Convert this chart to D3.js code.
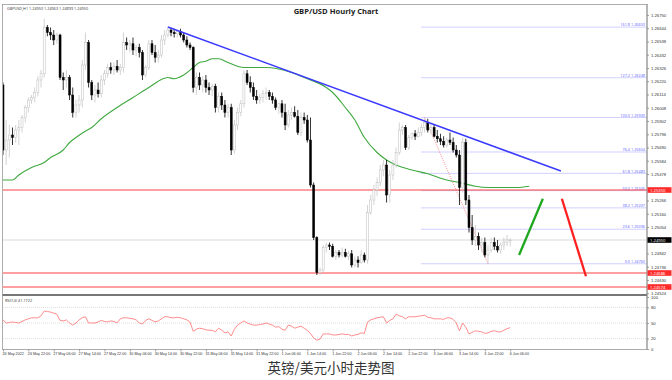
<!DOCTYPE html>
<html>
<head>
<meta charset="utf-8">
<script src="https://cdn.jsdelivr.net/npm/d3@7"></script>
<style>
  body { margin: 0; background: #fff; }
  svg { display: block; font-family: "Open Sans", "DejaVu Sans", sans-serif; }
</style>
</head>
<body>
<svg id="chart" width="672" height="380"></svg>
<script>
// GBPUSD H1 candles, bar 0 = 26 May 14:00 ... bar 160 = 6 Jun 06:00
const opens = [
  1.2619,1.2567,1.2575,1.2579,1.2577,1.2583,1.2585,1.2593,1.2601,1.2607,
  1.2609,1.2613,1.2623,1.2628,1.2665,1.2661,1.2659,1.2655,1.2659,1.2625,
  1.2623,1.2625,1.2611,1.2597,1.2603,1.2607,1.2635,1.2653,1.2621,1.2611,
  1.2615,1.2612,1.2623,1.2628,1.2633,1.2631,1.2634,1.2631,1.2633,1.2653,
  1.2651,1.2652,1.2647,1.2649,1.2645,1.2627,1.2633,1.2652,1.2645,1.2641,
  1.2643,1.2655,1.2659,1.2663,1.2661,1.2660,1.2662,1.2659,1.2655,1.2651,
  1.2649,1.2617,1.2625,1.2619,1.2623,1.2617,1.2615,1.2618,1.2601,1.2610,
  1.2603,1.2597,1.2601,1.2567,1.2587,1.2597,1.2604,1.2628,1.2621,1.2617,
  1.2610,1.2607,1.2609,1.2612,1.2613,1.2610,1.2607,1.2601,1.2604,1.2597,
  1.2587,1.2595,1.2597,1.2594,1.2581,1.2593,1.2591,1.2575,1.2539,1.2497,
  1.2469,1.2471,1.2489,1.2491,1.2490,1.2482,1.2485,1.2483,1.2485,1.2482,
  1.2484,1.2475,1.2479,1.2477,1.2483,1.2479,1.2517,1.2527,1.2535,1.2541,
  1.2551,1.2555,1.2531,1.2547,1.2555,1.2565,1.2583,1.2585,1.2569,1.2577,
  1.2580,1.2578,1.2581,1.2585,1.2589,1.2583,1.2585,1.2578,1.2576,1.2574,
  1.2571,1.2575,1.2573,1.2567,1.2563,1.2537,1.2573,1.2527,1.2505,1.2495,
  1.2498,1.2491,1.2493,1.2483,1.2487,1.2493,1.2490,1.2487,1.2491,1.2493,
  1.24950
];
const highs = [
  1.2621,1.2591,1.2587,1.2585,1.2587,1.2591,1.2595,1.2603,1.2609,1.2611,
  1.2617,1.2626,1.2631,1.2672,1.2667,1.2665,1.2663,1.2661,1.2660,1.2629,
  1.2631,1.2627,1.2617,1.2607,1.2611,1.2639,1.2661,1.2655,1.2623,1.2619,
  1.2621,1.2627,1.2631,1.2636,1.2637,1.2637,1.2639,1.2636,1.2661,1.2657,
  1.2655,1.2657,1.2651,1.2652,1.2647,1.2635,1.2655,1.2655,1.2651,1.2647,
  1.2659,1.2663,1.26654,1.2665,1.2664,1.2663,1.2664,1.2661,1.2658,1.2653,
  1.2650,1.2629,1.2629,1.2626,1.2627,1.2621,1.2620,1.2620,1.2613,1.2613,
  1.2607,1.2604,1.2604,1.2591,1.2601,1.2607,1.2631,1.2631,1.2626,1.2621,
  1.2615,1.2612,1.2615,1.2617,1.2615,1.2613,1.2609,1.2605,1.2607,1.2604,
  1.2599,1.2601,1.2602,1.2599,1.2597,1.2597,1.2595,1.2593,1.2541,1.2498,
  1.2473,1.2491,1.2493,1.2493,1.2492,1.2487,1.2487,1.2489,1.2488,1.2486,
  1.2487,1.2482,1.2482,1.2487,1.2485,1.2523,1.2531,1.2539,1.2545,1.2555,
  1.2559,1.2559,1.2551,1.2559,1.2569,1.2589,1.2587,1.2587,1.2579,1.2581,
  1.2583,1.2585,1.2588,1.2593,1.2592,1.2588,1.2587,1.2583,1.2580,1.2578,
  1.2577,1.2581,1.2577,1.2571,1.2567,1.2577,1.2576,1.2531,1.2515,1.2507,
  1.2501,1.2497,1.2497,1.2491,1.2497,1.2497,1.2495,1.2493,1.2497,1.2499,
  1.24963
];
const lows = [
  1.2563,1.2555,1.2561,1.2571,1.2573,1.2571,1.2581,1.2589,1.2597,1.2604,
  1.2605,1.2610,1.2617,1.2625,1.2658,1.2655,1.2651,1.2652,1.2623,1.2615,
  1.2617,1.2607,1.2593,1.2593,1.2597,1.2601,1.2631,1.2617,1.2607,1.2605,
  1.2609,1.2609,1.2619,1.2625,1.2628,1.2627,1.2629,1.2627,1.2629,1.2647,
  1.2645,1.2643,1.2642,1.2641,1.2623,1.2625,1.2631,1.2643,1.2637,1.2637,
  1.2641,1.2651,1.2657,1.2658,1.2657,1.2657,1.2657,1.2653,1.2649,1.2647,
  1.2613,1.2611,1.2615,1.2613,1.2613,1.2611,1.2610,1.2597,1.2597,1.2599,
  1.2593,1.2593,1.2563,1.2564,1.2583,1.2594,1.2601,1.2619,1.2613,1.2607,
  1.2604,1.2604,1.2605,1.2607,1.2607,1.2604,1.2599,1.2596,1.2593,1.2583,
  1.2585,1.2591,1.2593,1.2579,1.2578,1.2588,1.2573,1.2537,1.2495,1.2467,
  1.2467,1.2469,1.2485,1.2487,1.2481,1.2479,1.2481,1.2481,1.2481,1.2479,
  1.2473,1.2473,1.2473,1.2476,1.2477,1.2476,1.2515,1.2523,1.2530,1.2538,
  1.2546,1.2525,1.2525,1.2543,1.2553,1.2563,1.2579,1.2567,1.2567,1.2575,
  1.2575,1.2577,1.2578,1.2581,1.2581,1.2580,1.2577,1.2573,1.2571,1.2569,
  1.2569,1.2571,1.2565,1.2561,1.2523,1.2533,1.2523,1.2501,1.2491,1.2490,
  1.2487,1.2485,1.2481,1.2476,1.2485,1.2487,1.2485,1.2484,1.2487,1.2490,
  1.24899
];
const closes = [
  1.2567,1.2575,1.2579,1.2577,1.2583,1.2585,1.2593,1.2601,1.2607,1.2609,
  1.2613,1.2623,1.2628,1.2665,1.2661,1.2659,1.2655,1.2659,1.2625,1.2623,
  1.2625,1.2611,1.2597,1.2603,1.2607,1.2635,1.2653,1.2621,1.2611,1.2615,
  1.2612,1.2623,1.2628,1.2633,1.2631,1.2634,1.2631,1.2633,1.2653,1.2651,
  1.2652,1.2647,1.2649,1.2645,1.2627,1.2633,1.2652,1.2645,1.2641,1.2643,
  1.2655,1.2659,1.2663,1.2661,1.2660,1.2662,1.2659,1.2655,1.2651,1.2649,
  1.2617,1.2625,1.2619,1.2623,1.2617,1.2615,1.2618,1.2601,1.2610,1.2603,
  1.2597,1.2601,1.2567,1.2587,1.2597,1.2604,1.2628,1.2621,1.2617,1.2610,
  1.2607,1.2609,1.2612,1.2613,1.2610,1.2607,1.2601,1.2604,1.2597,1.2587,
  1.2595,1.2597,1.2594,1.2581,1.2593,1.2591,1.2575,1.2539,1.2497,1.2469,
  1.2471,1.2489,1.2491,1.2490,1.2482,1.2485,1.2483,1.2485,1.2482,1.2484,
  1.2475,1.2479,1.2477,1.2483,1.2479,1.2517,1.2527,1.2535,1.2541,1.2551,
  1.2555,1.2531,1.2547,1.2555,1.2565,1.2583,1.2585,1.2569,1.2577,1.2580,
  1.2578,1.2581,1.2585,1.2589,1.2583,1.2585,1.2578,1.2576,1.2574,1.2571,
  1.2575,1.2573,1.2567,1.2563,1.2537,1.2573,1.2527,1.2505,1.2495,1.2498,
  1.2491,1.2493,1.2483,1.2487,1.2493,1.2490,1.2487,1.2491,1.2493,1.2495,
  1.24950
];

// moving average (shifted forward), [bar, price]
const maPoints = [
  [0,1.2543],[3,1.2543],[5,1.2547],[9,1.2553],[13,1.2557],[15,1.2561],[19,1.2567],
  [21,1.2573],[23,1.2577],[26,1.2582],[28,1.2585],[31,1.2592],[36,1.2601],[41,1.2609],
  [46,1.2617],[52,1.2625],[54,1.2624],[57,1.2627],[60,1.2633],[62,1.2637],[64,1.2638],
  [66,1.2640],[68,1.2640],[71,1.2637],[76,1.2633],[80,1.2633],[83,1.2633],[91,1.2629],
  [95,1.2625],[102,1.2617],[104,1.2613],[108,1.2601],[111,1.2591],[114,1.2577],
  [118,1.2565],[121,1.2559],[124,1.2555],[129,1.2551],[134,1.2548],[140,1.2543],
  [144,1.2541],[149,1.2538],[153,1.2537],[155,1.2537],[162,1.2537],[166,1.2538]
];

const rsiValues = [
  56,50,51,52,51,50,53,56,58,60,
  60,60,64,73,72,71,69,67,55,54,
  56,50,46,50,56,60,62,50,50,50,
  52,55,53,52,54,53,50,58,60,60,
  59,58,56,50,48,55,58,55,52,54,
  58,62,62,60,60,61,60,58,56,52,
  34,38,40,39,37,36,36,33,40,36,
  31,33,25,38,46,50,54,50,48,46,
  46,47,48,50,48,46,42,43,38,36,
  46,44,40,42,44,40,36,30,21,17,
  19,29,29,29,27,27,28,29,28,28,
  25,27,28,31,30,52,56,58,60,61,
  62,50,55,58,67,64,62,58,62,62,
  62,63,64,65,61,60,58,58,58,57,
  60,60,57,50,35,50,42,29,32,35,
  34,33,30,31,34,35,33,33,36,39,
  41.1722
];
const rsiLevels = [80, 50, 20];
const rsiTicks = [100, 80, 50, 20, 0];

const timeLabels = [
  "26 May 2022","26 May 22:00","27 May 06:00","27 May 14:00","27 May 22:00",
  "30 May 06:00","30 May 14:00","30 May 22:00","31 May 06:00","31 May 14:00",
  "31 May 22:00","1 Jun 06:00","1 Jun 14:00","1 Jun 22:00","2 Jun 06:00",
  "2 Jun 14:00","2 Jun 22:00","3 Jun 06:00","3 Jun 14:00","3 Jun 22:00","6 Jun 06:00"
];
const priceTicks = [
  1.26750,1.26644,1.26538,1.26432,1.26326,1.26220,1.26114,1.26008,1.25902,1.25796,
  1.25690,1.25584,1.25478,1.25372,1.25266,1.25160,1.25054,1.24948,1.24842,1.24736,
  1.24630,1.24524
];

// Fibonacci retracement from the 2 Jun high to the 3 Jun low
const fibHigh = [133, 1.25930];
const fibLow = [153, 1.24760];
const fibRatios = [0, 23.6, 38.2, 50, 61.8, 76.4, 100, 127.2, 161.8];

const supportLevels = [1.25350, 1.24686, 1.24574];
const lastPrice = 1.24950;
const trendLine = [[52, 1.26654], [176, 1.25502]];
const upArrow = [[162.8, 1.2483], [170.3, 1.2528]];
const downArrow = [[176.3, 1.2528], [183.9, 1.2466]];

const svg = d3.select("#chart");
const left = 3, right = 647, mainTop = 4, mainBottom = 294, rsiTop = 296, rsiBottom = 349;

const x = d3.scaleLinear().domain([0, 160]).range([3, 510.2]);
const y = d3.scaleLinear().domain([1.24518, 1.26838]).range([mainBottom, mainTop]);
const yr = d3.scaleLinear().domain([0, 100]).range([349, 297]);

svg.append("defs").append("clipPath").attr("id", "mainClip")
  .append("rect").attr("x", left).attr("y", mainTop)
  .attr("width", right - left).attr("height", mainBottom - mainTop);

const main = svg.append("g").attr("clip-path", "url(#mainClip)");

// current price line
main.append("line")
  .attr("x1", left).attr("x2", right)
  .attr("y1", y(lastPrice)).attr("y2", y(lastPrice))
  .attr("stroke", "#cfcfcf").attr("stroke-width", 0.8);

// fib levels
const fibRange = fibHigh[1] - fibLow[1];
fibRatios.forEach(r => {
  const p = fibLow[1] + fibRange * r / 100;
  main.append("line")
    .attr("x1", x(fibHigh[0] - 1)).attr("x2", right)
    .attr("y1", y(p)).attr("y2", y(p))
    .attr("stroke", "#7a7aff").attr("stroke-width", 0.7)
    .attr("stroke-dasharray", "1,1");
  main.append("text")
    .attr("x", right - 2).attr("y", y(p) - 0.8)
    .attr("text-anchor", "end")
    .attr("font-size", 3.8).attr("fill", "#5a5aff")
    .text(d3.format(".1f")(r) + " " + d3.format(".5f")(p));
});
main.append("line")
  .attr("x1", x(fibHigh[0])).attr("y1", y(fibHigh[1]))
  .attr("x2", x(fibLow[0])).attr("y2", y(fibLow[1]))
  .attr("stroke", "#ff7070").attr("stroke-width", 0.8)
  .attr("stroke-dasharray", "1,1.2");

// support / resistance
supportLevels.forEach(p => {
  main.append("line")
    .attr("x1", left).attr("x2", right)
    .attr("y1", y(p)).attr("y2", y(p))
    .attr("stroke", "#ff4040").attr("stroke-width", 1.2);
});

// moving average
main.append("path")
  .datum(maPoints)
  .attr("d", d3.line().x(d => x(d[0])).y(d => y(d[1])).curve(d3.curveMonotoneX))
  .attr("fill", "none").attr("stroke", "#3fa83f").attr("stroke-width", 1.1);

// candles
const bw = 2;
d3.range(closes.length).forEach(i => {
  const o = opens[i], c = closes[i], up = c >= o;
  main.append("line")
    .attr("x1", x(i)).attr("x2", x(i))
    .attr("y1", y(highs[i])).attr("y2", y(lows[i]))
    .attr("stroke", up ? "#c8c8c8" : "#000").attr("stroke-width", 0.8);
  const top = y(Math.max(o, c)), h = Math.max(0.8, Math.abs(y(o) - y(c)));
  main.append("rect")
    .attr("x", x(i) - bw / 2).attr("y", top)
    .attr("width", bw).attr("height", h)
    .attr("fill", up ? "#fff" : "#000")
    .attr("stroke", up ? "#bbbbbb" : "#000").attr("stroke-width", 0.5);
});

// trend line
main.append("line")
  .attr("x1", x(trendLine[0][0])).attr("y1", y(trendLine[0][1]))
  .attr("x2", x(trendLine[1][0])).attr("y2", y(trendLine[1][1]))
  .attr("stroke", "#3b3bff").attr("stroke-width", 1.5);

// forecast strokes
main.append("line")
  .attr("x1", x(upArrow[0][0])).attr("y1", y(upArrow[0][1]))
  .attr("x2", x(upArrow[1][0])).attr("y2", y(upArrow[1][1]))
  .attr("stroke", "#1fa81f").attr("stroke-width", 2.3);
main.append("line")
  .attr("x1", x(downArrow[0][0])).attr("y1", y(downArrow[0][1]))
  .attr("x2", x(downArrow[1][0])).attr("y2", y(downArrow[1][1]))
  .attr("stroke", "#ff2020").attr("stroke-width", 2.3);

// RSI panel
const rsi = svg.append("g");
rsiLevels.forEach(v => {
  rsi.append("line")
    .attr("x1", left).attr("x2", right)
    .attr("y1", yr(v)).attr("y2", yr(v))
    .attr("stroke", "#c8c8c8").attr("stroke-width", 0.6)
    .attr("stroke-dasharray", "1,1");
});
rsi.append("path")
  .datum(rsiValues)
  .attr("d", d3.line().x((d, i) => x(i)).y(d => yr(d)))
  .attr("fill", "none").attr("stroke", "#ff8c8c").attr("stroke-width", 1);
rsi.append("text")
  .attr("x", 5).attr("y", 302)
  .attr("font-size", 3.8).attr("fill", "#333")
  .text("RSI(14) " + rsiValues[rsiValues.length - 1].toFixed(4));

// frames
svg.append("rect")
  .attr("x", 2.5).attr("y", mainTop + 0.5)
  .attr("width", right - 2.5).attr("height", rsiBottom - mainTop)
  .attr("fill", "none").attr("stroke", "#999").attr("stroke-width", 0.8);
svg.append("line")
  .attr("x1", 2.5).attr("x2", right)
  .attr("y1", 295).attr("y2", 295)
  .attr("stroke", "#777").attr("stroke-width", 1.8);

// price axis
const tagLevels = supportLevels.concat([lastPrice]);
const pAxis = svg.append("g")
  .attr("transform", `translate(${right},0)`)
  .call(d3.axisRight(y).tickValues(priceTicks).tickSize(2).tickFormat(d3.format(".5f")));
pAxis.select(".domain").remove();
pAxis.selectAll("line").attr("stroke", "#666").attr("stroke-width", 0.6);
pAxis.selectAll("text").attr("font-size", 4.2).attr("fill", "#333").attr("x", 4);
pAxis.selectAll(".tick").filter(d => tagLevels.some(t => Math.abs(y(t) - y(d)) < 3)).remove();

const rAxis = svg.append("g")
  .attr("transform", `translate(${right},0)`)
  .call(d3.axisRight(yr).tickValues(rsiTicks).tickSize(2));
rAxis.select(".domain").remove();
rAxis.selectAll("line").attr("stroke", "#666").attr("stroke-width", 0.6);
rAxis.selectAll("text").attr("font-size", 4.2).attr("fill", "#333").attr("x", 4);

svg.append("line")
  .attr("x1", right).attr("x2", right)
  .attr("y1", mainTop).attr("y2", rsiBottom + 0.5)
  .attr("stroke", "#888").attr("stroke-width", 0.8);

// price tags
const tags = supportLevels.map(p => ({ p, bg: "#ff2a2a" }))
  .concat([{ p: lastPrice, bg: "#000" }]);
tags.forEach(t => {
  svg.append("rect")
    .attr("x", right + 0.5).attr("y", y(t.p) - 2.8)
    .attr("width", 24).attr("height", 5.6)
    .attr("fill", t.bg);
  svg.append("text")
    .attr("x", right + 3).attr("y", y(t.p) + 1.5)
    .attr("font-size", 4.2).attr("fill", "#fff")
    .text(d3.format(".5f")(t.p));
});

// time axis
const tAxis = svg.append("g")
  .attr("transform", `translate(0,${rsiBottom + 0.5})`)
  .call(d3.axisBottom(x).tickValues(timeLabels.map((d, j) => j * 8))
    .tickSize(2).tickFormat((d, j) => timeLabels[j]));
tAxis.select(".domain").remove();
tAxis.selectAll("line").attr("stroke", "#666").attr("stroke-width", 0.6);
tAxis.selectAll("text")
  .attr("font-size", 3.7).attr("fill", "#333")
  .attr("text-anchor", "start").attr("dx", -1).attr("y", 2.5);

// titles
svg.append("text")
  .attr("x", 336).attr("y", 13.5).attr("text-anchor", "middle")
  .attr("font-size", 7.6).attr("font-weight", "bold").attr("fill", "#222")
  .text("GBP/USD Hourly Chart");
svg.append("text")
  .attr("x", 7).attr("y", 9.5)
  .attr("font-size", 3.8).attr("fill", "#333")
  .text("GBPUSD,H1 1.24950 1.24963 1.24899 1.24950");
svg.append("text")
  .attr("x", 331).attr("y", 373).attr("text-anchor", "middle")
  .attr("font-size", 13.5).attr("fill", "#333")
  .attr("font-family", "'Noto Sans CJK SC', sans-serif")
  .text("英镑/美元小时走势图");
</script>
</body>
</html>
